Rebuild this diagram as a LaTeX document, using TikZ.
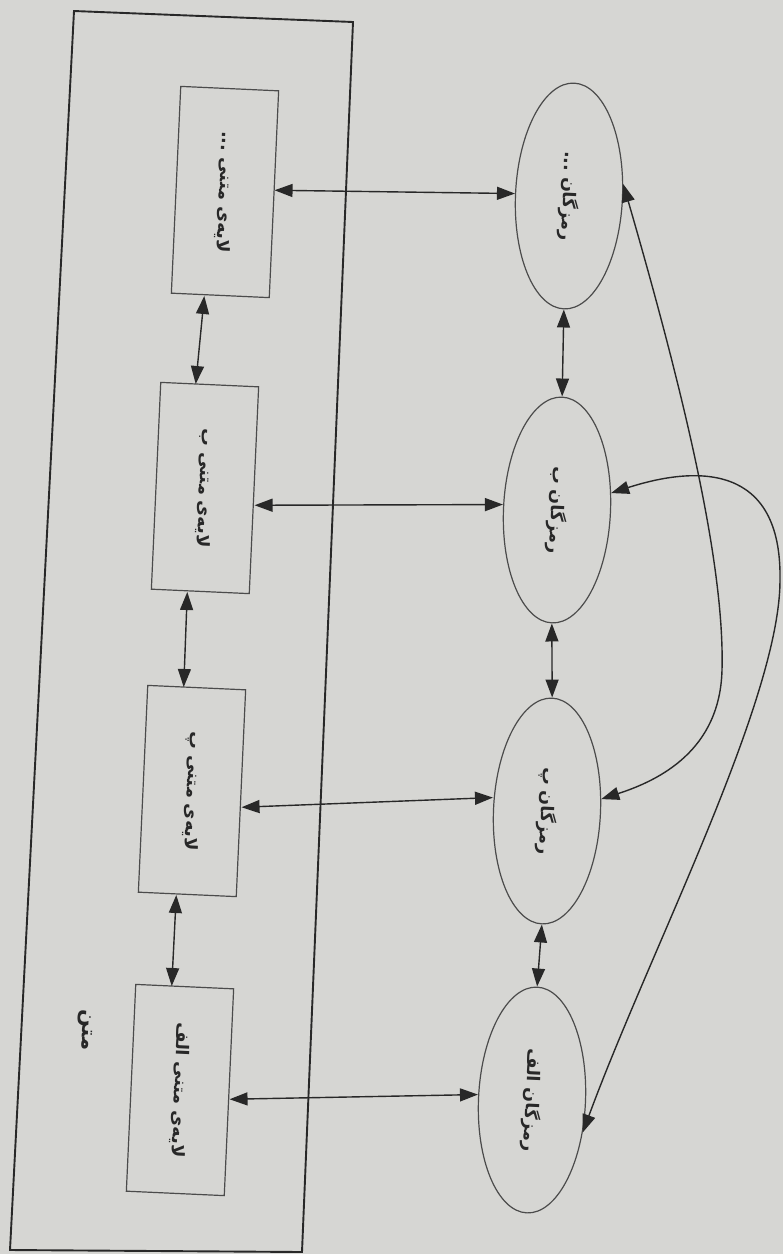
\documentclass[tikz,border=0pt]{standalone}
\usepackage{fontspec}
\usetikzlibrary{arrows.meta,shapes.geometric,calc}
\newfontfamily\arabicfont[Script=Arabic]{DejaVu Sans}
\TeXXeTstate=1
\definecolor{paper}{RGB}{214,214,211}
\definecolor{ink}{RGB}{40,40,40}
\definecolor{thin}{RGB}{75,75,75}
\begin{document}
\begin{tikzpicture}[x=1pt,y=-1pt,
  tilt/.style={rotate=-92.6},
  txt/.style={font=\arabicfont\bfseries\fontsize{17.5}{20}\selectfont, text=ink},
  layer/.style={draw=thin, line width=1.2pt, minimum width=207pt, minimum height=98pt, inner sep=0pt, tilt, txt},
  code/.style={ellipse, draw=thin, line width=1.2pt, minimum width=226pt, minimum height=107pt, inner sep=0pt, tilt, txt},
  dar/.style={{Triangle[length=18pt,width=13pt]}-{Triangle[length=18pt,width=13pt]}, line width=1.4pt, draw=ink, fill=none},
  frame/.style={draw=ink, line width=1.9pt}
]
\useasboundingbox[fill=paper] (0,0) rectangle (783,1254);
% outer frame (text)
\draw[frame] (74,11) -- (353,22) -- (302,1252) -- (10,1250) -- cycle;
% textual layers
\node[layer] (b1) at (225,192) {\beginR لایه^^^^200cی متنی ...\endR};
\node[layer] (b2) at (205,488) {\beginR لایه^^^^200cی متنی ب\endR};
\node[layer] (b3) at (192,791) {\beginR لایه^^^^200cی متنی پ\endR};
\node[layer] (b4) at (180,1090) {\beginR لایه^^^^200cی متنی الف\endR};
\node[tilt, font=\arabicfont\bfseries\fontsize{21}{24}\selectfont, text=ink] (lbl) at (85,1030) {\beginR متن\endR};
% codes
\node[code] (e1) at (569,196) {\beginR رمزگان ...\endR};
\node[code] (e2) at (557,510) {\beginR رمزگان ب\endR};
\node[code] (e3) at (547,811) {\beginR رمزگان پ\endR};
\node[code] (e4) at (532,1100) {\beginR رمزگان الف\endR};
% horizontal links
\draw[dar] ([yshift=4pt]b1.north) -- (e1.south);
\draw[dar] ([yshift=-15pt]b2.north) -- ([yshift=3pt]e2.south);
\draw[dar] ([yshift=-14pt]b3.north) -- ([yshift=11pt]e3.south);
\draw[dar] ([yshift=-7pt]b4.north) -- ([yshift=3pt]e4.south);
% vertical links between layers
\draw[dar] ([xshift=-16pt]b1.east) -- ([xshift=-14pt]b2.west);
\draw[dar] ([xshift=-13pt]b2.east) -- ([xshift=-13pt]b3.west);
\draw[dar] ([xshift=-11pt]b3.east) -- ([xshift=-13pt]b4.west);
% vertical links between codes
\draw[dar] (e1.east) -- (e2.west);
\draw[dar] (e2.east) -- (e3.west);
\draw[dar] (e3.east) -- (e4.west);
% long curved links
\coordinate (ka) at (722,670);
\coordinate (kb) at (780,580);
\draw[dar] (e1.105) .. controls (680,380) and (725,560) .. (ka) .. controls (720,750) and (660,780) .. (e3.105);
\draw[dar] (e2.110) .. controls (695,466) and (782,462) .. (kb) .. controls (780,700) and (650,950) .. (e4.60);
\end{tikzpicture}
\end{document}
